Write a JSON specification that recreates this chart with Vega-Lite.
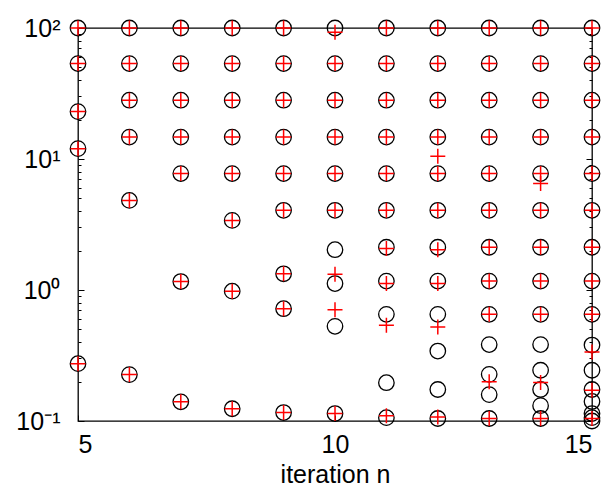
{
  "$schema": "https://vega.github.io/schema/vega-lite/v6.json",
  "width": 514,
  "height": 393,
  "autosize": "none",
  "padding": {"left": 78, "top": 28, "right": 19, "bottom": 71},
  "background": "white",
  "config": {
    "font": "Liberation Sans",
    "view": {"stroke": "black", "strokeWidth": 1.3},
    "axis": {
      "domain": false,
      "grid": false,
      "labelFont": "Liberation Sans",
      "labelFontSize": 25,
      "labelColor": "black",
      "tickColor": "black",
      "tickWidth": 1,
      "titleFont": "Liberation Sans",
      "titleFontSize": 25,
      "titleFontWeight": "normal",
      "titleColor": "black"
    }
  },
  "datasets": {
    "circles": [
      {"n": 5, "v": 100}, {"n": 5, "v": 53.5}, {"n": 5, "v": 23}, {"n": 5, "v": 12}, {"n": 5, "v": 0.274},
      {"n": 6, "v": 100}, {"n": 6, "v": 53.5}, {"n": 6, "v": 28.1}, {"n": 6, "v": 14.7}, {"n": 6, "v": 4.83}, {"n": 6, "v": 0.226},
      {"n": 7, "v": 100}, {"n": 7, "v": 53.5}, {"n": 7, "v": 28.1}, {"n": 7, "v": 14.7}, {"n": 7, "v": 7.74}, {"n": 7, "v": 1.16}, {"n": 7, "v": 0.14},
      {"n": 8, "v": 100}, {"n": 8, "v": 53.5}, {"n": 8, "v": 28.1}, {"n": 8, "v": 14.7}, {"n": 8, "v": 7.74}, {"n": 8, "v": 3.4}, {"n": 8, "v": 0.98}, {"n": 8, "v": 0.124},
      {"n": 9, "v": 100}, {"n": 9, "v": 53.5}, {"n": 9, "v": 28.1}, {"n": 9, "v": 14.7}, {"n": 9, "v": 7.74}, {"n": 9, "v": 4.06}, {"n": 9, "v": 1.33}, {"n": 9, "v": 0.72}, {"n": 9, "v": 0.116},
      {"n": 10, "v": 100}, {"n": 10, "v": 53.5}, {"n": 10, "v": 28.1}, {"n": 10, "v": 14.7}, {"n": 10, "v": 7.74}, {"n": 10, "v": 4.06}, {"n": 10, "v": 2.03}, {"n": 10, "v": 1.12}, {"n": 10, "v": 0.528}, {"n": 10, "v": 0.114},
      {"n": 11, "v": 100}, {"n": 11, "v": 53.5}, {"n": 11, "v": 28.1}, {"n": 11, "v": 14.7}, {"n": 11, "v": 7.74}, {"n": 11, "v": 4.06}, {"n": 11, "v": 2.12}, {"n": 11, "v": 1.17}, {"n": 11, "v": 0.652}, {"n": 11, "v": 0.196}, {"n": 11, "v": 0.106},
      {"n": 12, "v": 100}, {"n": 12, "v": 53.5}, {"n": 12, "v": 28.1}, {"n": 12, "v": 14.7}, {"n": 12, "v": 7.74}, {"n": 12, "v": 4.06}, {"n": 12, "v": 2.12}, {"n": 12, "v": 1.17}, {"n": 12, "v": 0.652}, {"n": 12, "v": 0.342}, {"n": 12, "v": 0.174}, {"n": 12, "v": 0.1045},
      {"n": 13, "v": 100}, {"n": 13, "v": 53.5}, {"n": 13, "v": 28.1}, {"n": 13, "v": 14.7}, {"n": 13, "v": 7.74}, {"n": 13, "v": 4.06}, {"n": 13, "v": 2.12}, {"n": 13, "v": 1.17}, {"n": 13, "v": 0.652}, {"n": 13, "v": 0.383}, {"n": 13, "v": 0.227}, {"n": 13, "v": 0.159}, {"n": 13, "v": 0.1045},
      {"n": 14, "v": 100}, {"n": 14, "v": 53.5}, {"n": 14, "v": 28.1}, {"n": 14, "v": 14.7}, {"n": 14, "v": 7.74}, {"n": 14, "v": 4.06}, {"n": 14, "v": 2.12}, {"n": 14, "v": 1.17}, {"n": 14, "v": 0.652}, {"n": 14, "v": 0.383}, {"n": 14, "v": 0.244}, {"n": 14, "v": 0.174}, {"n": 14, "v": 0.131}, {"n": 14, "v": 0.1045},
      {"n": 15, "v": 100}, {"n": 15, "v": 53.5}, {"n": 15, "v": 28.1}, {"n": 15, "v": 14.7}, {"n": 15, "v": 7.74}, {"n": 15, "v": 4.06}, {"n": 15, "v": 2.12}, {"n": 15, "v": 1.17}, {"n": 15, "v": 0.652}, {"n": 15, "v": 0.38}, {"n": 15, "v": 0.244}, {"n": 15, "v": 0.174}, {"n": 15, "v": 0.141}, {"n": 15, "v": 0.114}, {"n": 15, "v": 0.106}, {"n": 15, "v": 0.1}
    ],
    "plusses": [
      {"n": 5, "v": 100}, {"n": 5, "v": 53.5}, {"n": 5, "v": 23}, {"n": 5, "v": 12}, {"n": 5, "v": 0.274},
      {"n": 6, "v": 100}, {"n": 6, "v": 53.5}, {"n": 6, "v": 28.1}, {"n": 6, "v": 14.7}, {"n": 6, "v": 4.83}, {"n": 6, "v": 0.226},
      {"n": 7, "v": 100}, {"n": 7, "v": 53.5}, {"n": 7, "v": 28.1}, {"n": 7, "v": 14.7}, {"n": 7, "v": 7.74}, {"n": 7, "v": 1.16}, {"n": 7, "v": 0.14},
      {"n": 8, "v": 100}, {"n": 8, "v": 53.5}, {"n": 8, "v": 28.1}, {"n": 8, "v": 14.7}, {"n": 8, "v": 7.74}, {"n": 8, "v": 3.4}, {"n": 8, "v": 0.98}, {"n": 8, "v": 0.124},
      {"n": 9, "v": 100}, {"n": 9, "v": 53.5}, {"n": 9, "v": 28.1}, {"n": 9, "v": 14.7}, {"n": 9, "v": 7.74}, {"n": 9, "v": 4.06}, {"n": 9, "v": 1.33}, {"n": 9, "v": 0.72}, {"n": 9, "v": 0.116},
      {"n": 10, "v": 93}, {"n": 10, "v": 53.5}, {"n": 10, "v": 28.1}, {"n": 10, "v": 14.7}, {"n": 10, "v": 7.74}, {"n": 10, "v": 4.06}, {"n": 10, "v": 1.32}, {"n": 10, "v": 0.708}, {"n": 10, "v": 0.114},
      {"n": 11, "v": 100}, {"n": 11, "v": 53.5}, {"n": 11, "v": 28.1}, {"n": 11, "v": 14.7}, {"n": 11, "v": 7.74}, {"n": 11, "v": 4.06}, {"n": 11, "v": 2.07}, {"n": 11, "v": 1.12}, {"n": 11, "v": 0.538}, {"n": 11, "v": 0.1097},
      {"n": 12, "v": 100}, {"n": 12, "v": 53.5}, {"n": 12, "v": 28.1}, {"n": 12, "v": 14.7}, {"n": 12, "v": 10.5}, {"n": 12, "v": 7.74}, {"n": 12, "v": 4.06}, {"n": 12, "v": 2.03}, {"n": 12, "v": 1.12}, {"n": 12, "v": 0.522}, {"n": 12, "v": 0.1074},
      {"n": 13, "v": 100}, {"n": 13, "v": 53.5}, {"n": 13, "v": 28.1}, {"n": 13, "v": 14.7}, {"n": 13, "v": 7.74}, {"n": 13, "v": 4.06}, {"n": 13, "v": 2.12}, {"n": 13, "v": 1.17}, {"n": 13, "v": 0.652}, {"n": 13, "v": 0.199}, {"n": 13, "v": 0.1045},
      {"n": 14, "v": 100}, {"n": 14, "v": 53.5}, {"n": 14, "v": 28.1}, {"n": 14, "v": 14.7}, {"n": 14, "v": 7.74}, {"n": 14, "v": 6.49}, {"n": 14, "v": 4.06}, {"n": 14, "v": 2.12}, {"n": 14, "v": 1.17}, {"n": 14, "v": 0.652}, {"n": 14, "v": 0.197}, {"n": 14, "v": 0.1045},
      {"n": 15, "v": 100}, {"n": 15, "v": 53.5}, {"n": 15, "v": 28.1}, {"n": 15, "v": 14.7}, {"n": 15, "v": 7.74}, {"n": 15, "v": 4.06}, {"n": 15, "v": 2.12}, {"n": 15, "v": 1.17}, {"n": 15, "v": 0.652}, {"n": 15, "v": 0.336}, {"n": 15, "v": 0.172}, {"n": 15, "v": 0.1045}
    ]
  },
  "resolve": {"axis": {"y": "independent"}},
  "layer": [
    {
      "data": {"name": "circles"},
      "mark": {"type": "point", "shape": "circle", "filled": false, "stroke": "black", "strokeWidth": 1.3, "size": 240, "opacity": 1},
      "encoding": {
        "x": {
          "field": "n", "type": "quantitative",
          "scale": {"domain": [5, 15], "nice": false, "zero": false},
          "axis": {"values": [5, 10, 15], "tickSize": -6, "labelPadding": 17, "title": "iteration n", "titlePadding": 5, "orient": "bottom"}
        },
        "y": {
          "field": "v", "type": "quantitative",
          "scale": {"type": "log", "domain": [0.1, 100], "nice": false},
          "axis": {
            "orient": "left",
            "title": null,
            "values": [0.1, 0.2, 0.3, 0.4, 0.5, 0.6, 0.7, 0.8, 0.9, 1, 2, 3, 4, 5, 6, 7, 8, 9, 10, 20, 30, 40, 50, 60, 70, 80, 90, 100],
            "labelExpr": "datum.value == 100 ? '10²' : datum.value == 10 ? '10¹' : datum.value == 1 ? '10⁰' : datum.value == 0.1 ? '10⁻¹' : ''",
            "tickSize": {"condition": {"test": "datum.value == 0.1 || datum.value == 1 || datum.value == 10 || datum.value == 100", "value": -6}, "value": -3},
            "labelPadding": 24
          }
        }
      }
    },
    {
      "data": {"name": "plusses"},
      "mark": {"type": "point", "shape": "M-1,0L1,0M0,-1L0,1", "filled": false, "stroke": "#ff0000", "strokeWidth": 1.5, "size": 225, "opacity": 1},
      "encoding": {
        "x": {"field": "n", "type": "quantitative"},
        "y": {
          "field": "v", "type": "quantitative",
          "axis": {
            "orient": "right",
            "title": null,
            "labels": false,
            "values": [0.1, 0.2, 0.3, 0.4, 0.5, 0.6, 0.7, 0.8, 0.9, 1, 2, 3, 4, 5, 6, 7, 8, 9, 10, 20, 30, 40, 50, 60, 70, 80, 90, 100],
            "tickSize": {"condition": {"test": "datum.value == 0.1 || datum.value == 1 || datum.value == 10 || datum.value == 100", "value": -6}, "value": -3}
          }
        }
      }
    }
  ]
}
